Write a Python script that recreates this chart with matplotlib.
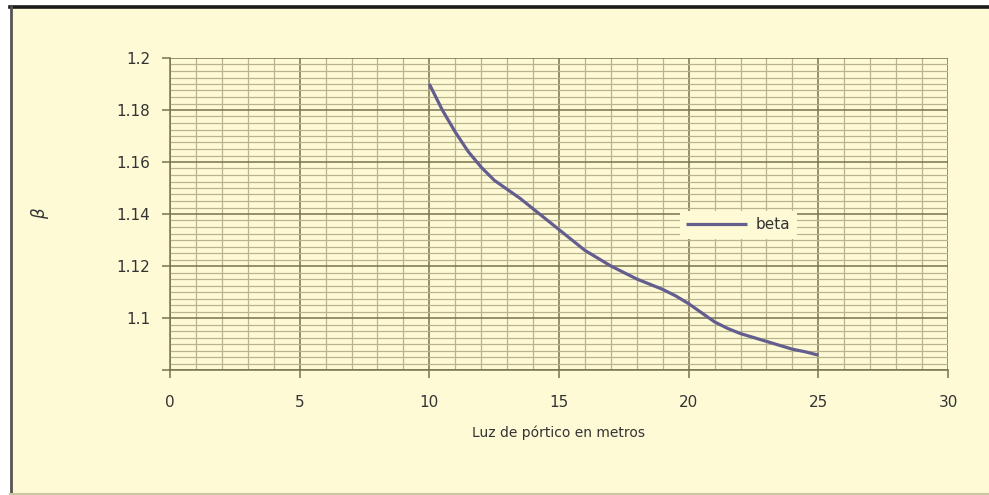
import matplotlib.pyplot as plt
from matplotlib.lines import Line2D
from matplotlib.ticker import MultipleLocator, FixedLocator

# span in metres vs beta factor
luz = [10, 10.5, 11, 11.5, 12, 12.5, 13, 13.5, 14, 14.5, 15, 15.5, 16, 16.5,
       17, 17.5, 18, 18.5, 19, 19.5, 20, 20.5, 21, 21.5, 22, 22.5, 23, 23.5,
       24, 24.5, 25]
beta = [1.190, 1.180, 1.1715, 1.164, 1.158, 1.153, 1.1495, 1.146, 1.142, 1.138,
        1.134, 1.130, 1.126, 1.123, 1.120, 1.1175, 1.115, 1.113, 1.111, 1.1085,
        1.1055, 1.102, 1.0985, 1.096, 1.094, 1.0925, 1.091, 1.0895, 1.088,
        1.087, 1.0857]

y_ticks = [1.08, 1.10, 1.12, 1.14, 1.16, 1.18, 1.20]
y_labels = ['', '1.1', '1.12', '1.14', '1.16', '1.18', '1.2']
x_ticks = [0, 5, 10, 15, 20, 25, 30]

bg = '#fefad6'
major_c = '#77734f'
minor_c = '#b9b48e'
txt_c = '#333333'

fig = plt.figure(figsize=(9.89, 4.95), dpi=100)
fig.patch.set_facecolor('white')

# panel background + frame
fig.patches.append(plt.Rectangle((10 / 989, 0), 1, 1 - 8 / 495, transform=fig.transFigure,
                                 facecolor=bg, edgecolor='none', zorder=-1))
fig.lines.append(Line2D([10 / 989, 1], [1 - 7 / 495] * 2, transform=fig.transFigure,
                        color='#1a1a1a', lw=2.6))
fig.lines.append(Line2D([11 / 989] * 2, [0, 1 - 7 / 495], transform=fig.transFigure,
                        color='#555555', lw=2.0))
fig.lines.append(Line2D([10 / 989, 1], [1.5 / 495] * 2, transform=fig.transFigure,
                        color='#c9c6a4', lw=1.5))

ax = fig.add_axes([170 / 989, 1 - 370 / 495, (948 - 170) / 989, (370 - 58) / 495])
ax.set_facecolor(bg)
ax.set_xlim(0, 30)
ax.set_ylim(1.08, 1.2)

ax.xaxis.set_major_locator(FixedLocator(x_ticks))
ax.xaxis.set_minor_locator(MultipleLocator(1))
ax.yaxis.set_major_locator(FixedLocator(y_ticks))
ax.yaxis.set_minor_locator(MultipleLocator(0.0025))
ax.set_yticklabels(y_labels)

ax.grid(which='major', color=major_c, lw=1.1)
ax.grid(which='minor', color=minor_c, lw=0.9)
ax.set_axisbelow(True)

for s in ['top', 'right']:
    ax.spines[s].set_visible(False)
for s in ['left', 'bottom']:
    ax.spines[s].set_color(major_c)
    ax.spines[s].set_linewidth(1.1)

ax.tick_params(which='major', length=6, width=1.1, color=major_c, labelsize=11,
               labelcolor=txt_c, pad=8)
ax.tick_params(which='minor', length=0)
ax.tick_params(axis='x', pad=12)

ax.plot(luz, beta, color='#635e8e', lw=2.3, label='beta', zorder=3,
        solid_joinstyle='round', solid_capstyle='butt')

leg = ax.legend(loc='center left', bbox_to_anchor=(0.655, 0.465), frameon=True,
                fontsize=11, handlelength=4.0, handletextpad=0.6,
                borderpad=0.4, borderaxespad=0, fancybox=False)
leg.get_frame().set_facecolor(bg)
leg.get_frame().set_edgecolor('none')
leg.get_frame().set_alpha(1)
for t in leg.get_texts():
    t.set_color(txt_c)

fig.text(559 / 989, 1 - 433 / 495, 'Luz de pórtico en metros', ha='center', va='center',
         fontsize=10, color=txt_c)
fig.text(40 / 989, 1 - 213 / 495, r'$\beta$', ha='center', va='center', rotation=90,
         fontsize=12, color=txt_c)

fig.savefig('out.png', dpi=100, facecolor='white')
